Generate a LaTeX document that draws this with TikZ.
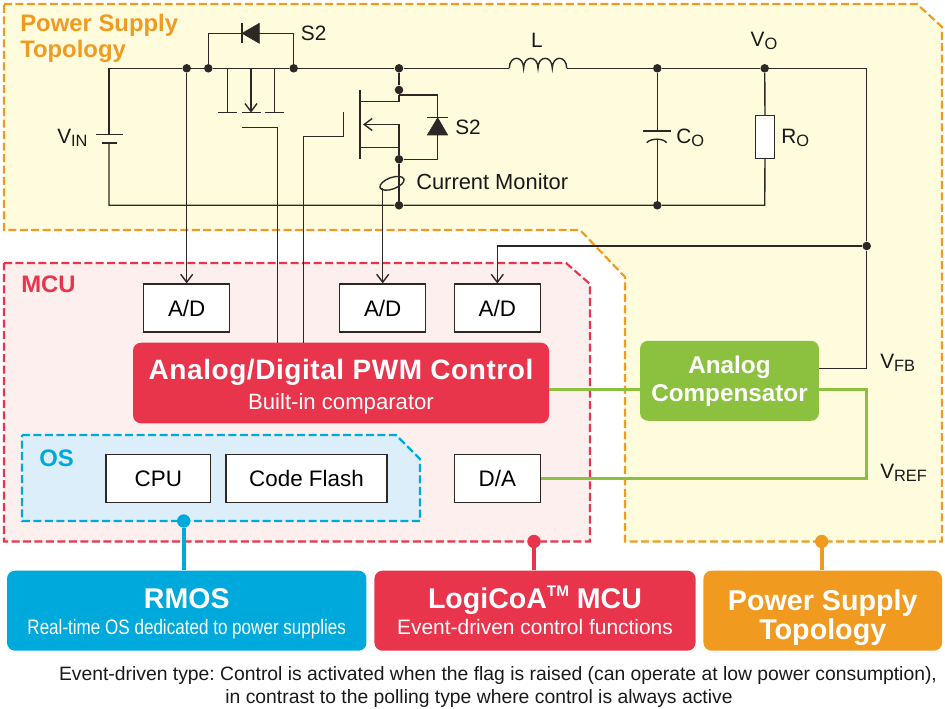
\documentclass[tikz,border=0pt]{standalone}
\usepackage{fontspec}
\setmainfont{Liberation Sans}
\usetikzlibrary{arrows.meta,shapes.geometric}

\definecolor{wirecol}{RGB}{45,40,38}
\definecolor{topofill}{RGB}{255,252,222}
\definecolor{topocol}{RGB}{240,154,32}
\definecolor{mcufill}{RGB}{253,239,237}
\definecolor{mcucol}{RGB}{232,53,76}
\definecolor{osfill}{RGB}{220,238,249}
\definecolor{oscol}{RGB}{0,169,220}
\definecolor{compcol}{RGB}{140,193,63}

\newcommand{\lowlab}[2]{#1\raisebox{-0.28ex}{\fontsize{12.3}{12.3}\selectfont #2}}

\tikzset{
  wire/.style={draw=wirecol,line width=1.05pt},
  arrowwire/.style={wire,-{Straight Barb[length=6pt,width=9pt]}},
  greenwire/.style={draw=compcol,line width=2pt},
  dot/.style={circle,fill=wirecol,inner sep=0pt,minimum size=6.4pt},
  area/.style={line width=1.6pt,dash pattern=on 6pt off 2.6pt},
  lab/.style={inner sep=0pt,text=black!90,font=\fontsize{15.6}{18}\selectfont},
  notelab/.style={inner sep=0pt,text=black!90,font=\fontsize{14.5}{17.25}\selectfont\frenchspacing},
  blockbox/.style={draw=wirecol,fill=white,line width=0.85pt,inner sep=0pt,minimum height=36pt,font=\fontsize{16.8}{19}\selectfont},
  solidbox/.style={rounded corners=6pt,inner sep=0pt,minimum height=60pt,text=white,align=center},
  areatitle/.style={inner sep=0pt,anchor=west,align=left,font=\fontsize{17.9}{19.6}\selectfont\bfseries},
  pin/.style={circle,inner sep=0pt,minimum size=10pt},
}

\begin{document}
\begin{tikzpicture}[x=0.75pt,y=0.75pt,yscale=-1,xscale=1]
\useasboundingbox (0,0) rectangle (945,709);

%Shape: Topology area
\draw [area,draw=topocol,fill=topofill] (4,4) -- (917,4) -- (942,27) -- (942,541.5) -- (625,541.5) -- (625,277) -- (580,230) -- (4,230) -- cycle ;
%Shape: MCU area
\draw [area,draw=mcucol,fill=mcufill] (4,263) -- (566,263) -- (590,284) -- (590,541.5) -- (4,541.5) -- cycle ;
%Shape: OS area
\draw [area,draw=oscol,fill=osfill] (22,435) -- (396,435) -- (420,459) -- (420,521) -- (22,521) -- cycle ;

% Junctions
\node [dot] (topA) at (186.7,68.3) {};
\node [dot] (topB) at (208.3,68.3) {};
\node [dot] (topC) at (293.7,68.3) {};
\node [dot] (topD) at (399,68.3) {};
\node [dot] (topE) at (657.3,68.3) {};
\node [dot] (topF) at (764.7,68.3) {};
\node [dot] (drainQ) at (399,90) {};
\node [dot] (sourceQ) at (399,159.3) {};
\node [dot] (botD) at (399,205.3) {};
\node [dot] (botE) at (657.3,205.3) {};
\node [dot] (fbTap) at (866.7,246) {};
\coordinate (topLeft) at (109,68.3);
\coordinate (topRight) at (866.7,68.3);
\coordinate (botLeft) at (109,205.3);
\coordinate (botRight) at (764.7,205.3);
\coordinate (indIn) at (509.3,68.3);
\coordinate (indOut) at (566.7,68.3);

% Blocks
\node [blockbox,minimum width=64.5pt] (adIn) at (186.7,308) {A/D};
\node [blockbox,minimum width=64.5pt] (adCur) at (382.7,308) {A/D};
\node [blockbox,minimum width=64.5pt] (adFb) at (497.3,308) {A/D};
\node [blockbox,minimum width=64.5pt] (daRef) at (497.3,478.5) {D/A};
\node [blockbox,minimum width=78.4pt] (cpu) at (158.3,478.5) {CPU};
\node [blockbox,minimum width=120.8pt] (flash) at (306.5,478.5) {Code Flash};
\node [solidbox,fill=mcucol,minimum width=312pt,minimum height=60.4pt] (pwm) at (341,383) {{\fontsize{21}{23}\selectfont\bfseries\addfontfeature{LetterSpace=2}\rule{0pt}{20pt}Analog/Digital PWM Control}\\[5pt]{\fontsize{16.6}{17}\selectfont Built-in comparator}};
\node [solidbox,fill=compcol,minimum width=134.2pt,font=\fontsize{18.2}{21}\selectfont\bfseries] (comp) at (729.5,380.8) {Analog\\Compensator};
\node [solidbox,fill=oscol,minimum width=269.6pt] (rmos) at (186.75,610.7) {{\fontsize{21.4}{23}\selectfont\bfseries\rule{0pt}{19.5pt}RMOS}\\[7.7pt]{\fontsize{15.7}{17}\selectfont\addfontfeature{FakeStretch=0.815}Real-time OS dedicated to power supplies}};
\node [solidbox,fill=mcucol,minimum width=240.8pt] (logicoa) at (535,610.7) {{\fontsize{21.4}{23}\selectfont\bfseries LogiCoA\raisebox{0.75ex}{\fontsize{11.5}{11.5}\selectfont TM} MCU}\\[3.25pt]{\fontsize{15.7}{17}\selectfont Event-driven control functions}};
\node [solidbox,fill=topocol,minimum width=178.9pt,font=\fontsize{21.5}{20}\selectfont\bfseries] (topobox) at (822.75,610.7) {\rule{0pt}{26pt}Power Supply\\Topology};

% Callout pins
\node [pin,fill=oscol] (pinOs) at (183.7,521) {};
\node [pin,fill=mcucol] (pinMcu) at (534,541.5) {};
\node [pin,fill=topocol] (pinTopo) at (821.7,541.5) {};
\draw [draw=oscol,line width=3pt] (pinOs) -- (rmos.north -| pinOs) ;
\draw [draw=mcucol,line width=3pt] (pinMcu) -- (logicoa.north -| pinMcu) ;
\draw [draw=topocol,line width=3pt] (pinTopo) -- (topobox.north -| pinTopo) ;

%Straight Lines: rails
\draw [wire] (topLeft) -- (topA) -- (topB) -- (topC) -- (topD) -- (indIn) ;
\draw [wire] (indOut) -- (topE) -- (topF) -- (topRight) -- (fbTap) ;
\draw [wire] (topLeft) -- (109,134.5) ;
\draw [wire] (109,143) -- (botLeft) -- (botD) -- (botE) -- (botRight) -- (765,158.3) ;
\draw [wire] (topF) -- (765,115.3) ;
\draw [wire] (topE) -- (657.3,131) ;
\draw [wire] (657.3,139.3) -- (botE) ;

%Shape: Battery
\draw [wire] (95.7,134.5) -- (123.3,134.5) ;
\draw [wire] (102,143) -- (116.7,143) ;
%Shape: Inductor
\draw [wire] (509.3,68.3) .. controls (509.3,55) and (523.6,55) .. (523.6,68.3) .. controls (523.6,55) and (538,55) .. (538,68.3) .. controls (538,55) and (552.3,55) .. (552.3,68.3) .. controls (552.3,55) and (566.7,55) .. (566.7,68.3) ;
%Shape: Output capacitor
\draw [wire] (642.7,131) -- (671,131) ;
\draw [wire] (646.7,142.7) .. controls (651,138) and (663,138) .. (666.7,142.7) ;
%Shape: Output resistor
\node [draw=wirecol,fill=white,line width=0.85pt,inner sep=0pt,minimum width=14.2pt,minimum height=32.2pt] (resO) at (764.7,136.8) {};

%Shape: High side FET
\draw [wire] (topB) |- (293.7,33.3) -- (topC) ;
\draw [wire] (242,23.3) -- (242,43.3) ;
\draw [fill=wirecol,draw=wirecol] (242,33.3) -- (259.3,23.3) -- (259.3,43.3) -- cycle ;
\draw [wire] (227.3,68.3) -- (227.3,112.7) ;
\draw [wire] (274.7,68.3) -- (274.7,112.7) ;
\draw [arrowwire] (251,68.3) -- (251,112.7) ;
\draw [wire] (218.3,112.7) -- (236.7,112.7) ;
\draw [wire] (242,112.7) -- (260.7,112.7) ;
\draw [wire] (265.3,112.7) -- (284.3,112.7) ;

%Shape: Low side FET
\draw [wire] (360,90) -- (360,159.3) ;
\draw [wire] (topD) -- (drainQ) -- (399,101.7) -- (360,101.7) ;
\draw [arrowwire] (399,124.5) -- (363,124.5) ;
\draw [wire] (399,124.5) -- (sourceQ) -- (botD) ;
\draw [wire] (360,147.3) -- (399,147.3) ;
\draw [wire] (399,95) -- (437.7,95) -- (437.7,117.7) ;
\draw [wire] (437.7,135) -- (437.7,159.3) -- (sourceQ) ;
\draw [wire] (427.3,117.7) -- (447.7,117.7) ;
\draw [fill=wirecol,draw=wirecol] (437.7,117.7) -- (427.3,135) -- (447.7,135) -- cycle ;

%Shape: Current sensor
\node [draw=wirecol,ellipse,line width=1.05pt,inner sep=0pt,minimum width=19pt,minimum height=8.6pt,rotate=20] (ctMon) at (392,183.3) {};

%Straight Lines: signals
\coordinate (gateA) at (241.7,127.3);
\coordinate (gateB) at (343.3,111.7);
\draw [wire] (gateA) -- (277.7,127.3) -- (277.7,342.8) ;
\draw [wire] (gateB) -- (343.3,136.7) -- (303.7,136.7) -- (303.7,342.8) ;
\draw [arrowwire] (topA) -- (adIn) ;
\draw [arrowwire] (382.7,188.5) -- (adCur) ;
\draw [arrowwire] (fbTap) -| (adFb) ;
\draw [wire] (fbTap) -- (866.7,368.7) -- (comp.east |- 0,368.7) ;
\draw [greenwire] (pwm.east |- 0,389.3) -- (comp.west |- 0,389.3) ;
\draw [greenwire] (comp.east |- 0,389.3) -- (866.7,389.3) |- (daRef) ;

% Text Node
\node [areatitle,text=topocol] (titleTopo) at (20,38.5) {Power Supply\\Topology};
\node [areatitle,text=mcucol] (titleMcu) at (21,284) {MCU};
\node [areatitle,text=oscol] (titleOs) at (39,458) {OS};
\node [lab,anchor=west] (labSa) at (300.7,33) {S2};
\node [lab,anchor=west] (labSb) at (455,127) {S2};
\node [lab,anchor=west] (labVin) at (57,138) {\lowlab{V}{IN}};
\node [lab] (labL) at (537,40) {L};
\node [lab] (labVo) at (764,41) {\lowlab{V}{O}};
\node [lab,anchor=west] (labCo) at (676,138) {\lowlab{C}{O}};
\node [lab,anchor=west] (labRo) at (781,138) {\lowlab{R}{O}};
\node [lab,anchor=west,font=\fontsize{16.4}{18}\selectfont] (labMon) at (416,182) {Current Monitor};
\node [lab,anchor=west] (labFb) at (880,363) {\lowlab{V}{FB}};
\node [lab,anchor=west] (labRef) at (880,473) {\lowlab{V}{REF}};
\node [notelab] (noteA) at (498,675) {Event-driven type: Control is activated when the flag is raised (can operate at low power consumption),};
\node [notelab] (noteB) at (479,698) {in contrast to the polling type where control is always active};

\end{tikzpicture}
\end{document}
